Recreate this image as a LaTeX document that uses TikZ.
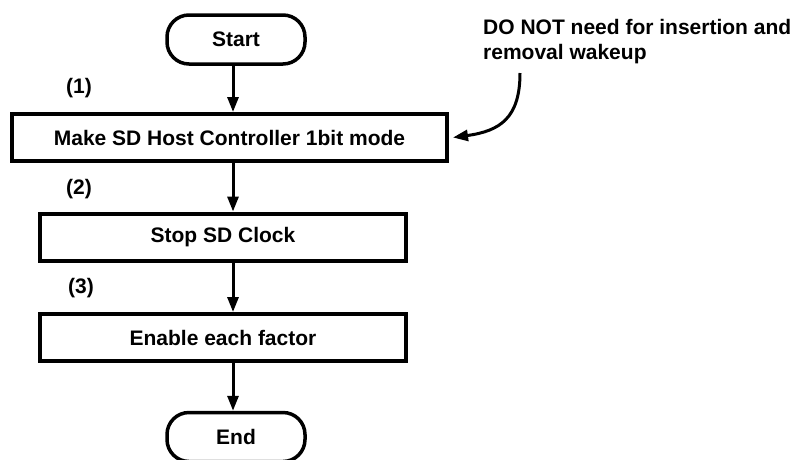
\documentclass[tikz,border=0pt]{standalone}
\usepackage{fontspec}
\setmainfont{Liberation Sans}
\usepackage{tikz}
\usetikzlibrary{arrows.meta,positioning,calc}

\begin{document}
\begin{tikzpicture}[
  x=1pt, y=-1pt,
  font=\fontsize{21}{25}\selectfont\bfseries,
  term/.style={draw, line width=3.5pt, rounded corners=22pt, minimum width=138pt, minimum height=49pt, inner sep=0pt},
  stepbox/.style={draw, line width=4pt, minimum height=47pt, inner sep=0pt},
  tag/.style={inner sep=0pt},
  arr/.style={-{Triangle[length=15pt,width=11pt]}, line width=3pt}
]
\useasboundingbox (0,0) rectangle (798,459);
\node[term] (start) at (236,39.5) {Start};
\node[stepbox, minimum width=435pt] (mode) at (229.5,137.5) {Make SD Host Controller 1bit mode};
\node[stepbox, minimum width=366pt] (clock) at (223,237) {Stop SD Clock};
\node[stepbox, minimum width=366pt] (factor) at (223,337.5) {Enable each factor};
\node[term] (end) at (236,437) {End};
\node[tag] (n1) at (79,88) {(1)};
\node[tag] (n2) at (79,189) {(2)};
\node[tag] (n3) at (81,288) {(3)};
\node[tag, align=left, anchor=north west] (note) at (483,19)
  {DO NOT need for insertion and\\removal wakeup};
\coordinate (spine) at (233,0);
\coordinate (notetail) at (520,73);
\draw[arr] (start.south -| spine) -- (mode.north -| spine);
\draw[arr] (mode.south -| spine) -- (clock.north -| spine);
\draw[arr] (clock.south -| spine) -- (factor.north -| spine);
\draw[arr] (factor.south -| spine) -- (end.north -| spine);
\draw[arr] (notetail) .. controls (520,118) and (500,131) .. ([xshift=4pt]mode.east);
\end{tikzpicture}
\end{document}
